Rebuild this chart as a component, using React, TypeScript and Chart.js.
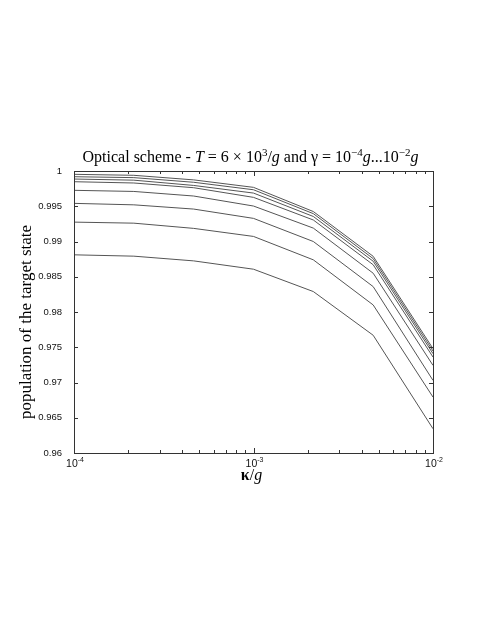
import React, { useEffect, useRef } from "react";
import { Chart, registerables } from "chart.js";

Chart.register(...registerables);

const kappa = [1e-4, 2.154e-4, 4.642e-4, 1e-3, 2.154e-3, 4.642e-3, 1e-2];

const series1 = [0.99953, 0.99939, 0.99874, 0.99768, 0.99425, 0.9879, 0.9748];
const series2 = [0.99919, 0.99906, 0.9984, 0.99734, 0.99395, 0.98757, 0.97446];
const series3 = [0.99886, 0.9987, 0.99795, 0.99687, 0.99355, 0.9872, 0.97409];
const series4 = [0.99848, 0.9983, 0.99763, 0.99626, 0.99305, 0.9867, 0.97361];
const series5 = [0.99726, 0.9971, 0.99645, 0.99503, 0.9919, 0.9855, 0.97243];
const series6 = [0.99541, 0.9952, 0.9946, 0.99328, 0.99, 0.9836, 0.9703];
const series7 = [0.99275, 0.9926, 0.99186, 0.99072, 0.9874, 0.981, 0.96793];
const series8 = [0.98811, 0.98792, 0.98725, 0.98607, 0.9829, 0.9767, 0.96344];

const allSeries = [series1, series2, series3, series4, series5, series6, series7, series8];

const yTicks = [1, 0.995, 0.99, 0.985, 0.98, 0.975, 0.97, 0.965, 0.96];
const yTickLabels = ["1", "0.995", "0.99", "0.985", "0.98", "0.975", "0.97", "0.965", "0.96"];
const xTickExponents = [-4, -3, -2];
const xMinorMultipliers = [2, 3, 4, 5, 6, 7, 8, 9];

const SERIF = "'Liberation Serif', 'DejaVu Serif', serif";
const SANS = "'Liberation Sans', Arial, sans-serif";

type Part = { t: string; font: string; dy?: number };

function drawParts(ctx: CanvasRenderingContext2D, parts: Part[], cx: number, y: number) {
  let total = 0;
  const widths = parts.map((p) => {
    ctx.font = p.font;
    const w = ctx.measureText(p.t).width;
    total += w;
    return w;
  });
  let x = cx - total / 2;
  ctx.textAlign = "left";
  ctx.textBaseline = "alphabetic";
  parts.forEach((p, i) => {
    ctx.font = p.font;
    ctx.fillText(p.t, x, y + (p.dy || 0));
    x += widths[i];
  });
}

const framePlugin = {
  id: "framePlugin",
  afterDraw(chart: any) {
    const ctx: CanvasRenderingContext2D = chart.ctx;
    const { left, right, top, bottom } = chart.chartArea;
    const xs = chart.scales.x;
    const ys = chart.scales.y;
    ctx.save();
    ctx.strokeStyle = "#333";
    ctx.lineWidth = 1;
    ctx.strokeRect(left + 0.5, top + 0.5, right - left, bottom - top);

    ctx.beginPath();
    yTicks.forEach((v) => {
      const py = Math.round(ys.getPixelForValue(v)) + 0.5;
      ctx.moveTo(left, py);
      ctx.lineTo(left + 4, py);
      ctx.moveTo(right, py);
      ctx.lineTo(right - 4, py);
    });
    xTickExponents.forEach((e) => {
      const px = Math.round(xs.getPixelForValue(Math.pow(10, e))) + 0.5;
      ctx.moveTo(px, bottom);
      ctx.lineTo(px, bottom - 5);
      ctx.moveTo(px, top);
      ctx.lineTo(px, top + 5);
    });
    xTickExponents.slice(0, -1).forEach((e) => {
      xMinorMultipliers.forEach((m) => {
        const px = Math.round(xs.getPixelForValue(m * Math.pow(10, e))) + 0.5;
        ctx.moveTo(px, bottom);
        ctx.lineTo(px, bottom - 3);
        ctx.moveTo(px, top);
        ctx.lineTo(px, top + 3);
      });
    });
    ctx.stroke();

    ctx.fillStyle = "#111";
    ctx.font = `9.5px ${SANS}`;
    ctx.textAlign = "right";
    ctx.textBaseline = "middle";
    yTicks.forEach((v, i) => {
      ctx.fillText(yTickLabels[i], left - 12, ys.getPixelForValue(v));
    });
    xTickExponents.forEach((e) => {
      const px = xs.getPixelForValue(Math.pow(10, e));
      drawParts(
        ctx,
        [
          { t: "10", font: `10.5px ${SANS}` },
          { t: "-" + String(-e), font: `7px ${SANS}`, dy: -5 },
        ],
        px + 1,
        bottom + 14
      );
    });

    ctx.fillStyle = "#000";
    const tf = `16px ${SERIF}`;
    const ti = `italic 16px ${SERIF}`;
    const ts = `11px ${SERIF}`;
    drawParts(
      ctx,
      [
        { t: "Optical scheme - ", font: tf },
        { t: "T", font: ti },
        { t: " = 6 × 10", font: tf },
        { t: "3", font: ts, dy: -6 },
        { t: "/", font: tf },
        { t: "g", font: ti },
        { t: " and γ = 10", font: tf },
        { t: "−4", font: ts, dy: -6 },
        { t: "g", font: ti },
        { t: "...10", font: tf },
        { t: "−2", font: ts, dy: -6 },
        { t: "g", font: ti },
      ],
      (left + right) / 2 - 3,
      top - 9
    );

    drawParts(
      ctx,
      [
        { t: "κ", font: `bold 16px ${SERIF}` },
        { t: "/", font: `16px ${SERIF}` },
        { t: "g", font: `italic 16px ${SERIF}` },
      ],
      (left + right) / 2 - 2,
      bottom + 27
    );

    ctx.save();
    ctx.translate(31, 322);
    ctx.rotate(-Math.PI / 2);
    ctx.font = `17px ${SERIF}`;
    ctx.textAlign = "center";
    ctx.textBaseline = "alphabetic";
    ctx.fillText("population of the target state", 0, 0);
    ctx.restore();

    ctx.restore();
  },
};

export default function App() {
  const ref = useRef<HTMLCanvasElement | null>(null);
  useEffect(() => {
    if (!ref.current) return;
    const chart = new Chart(ref.current, {
      type: "line",
      data: {
        datasets: allSeries.map((s, i) => ({
          label: "series " + (i + 1),
          data: s.map((v, j) => ({ x: kappa[j], y: v })),
          borderColor: "#555",
          borderWidth: 1,
          pointRadius: 0,
          fill: false,
          tension: 0,
        })),
      },
      options: {
        animation: false,
        responsive: false,
        maintainAspectRatio: false,
        layout: { padding: { left: 74, right: 58, top: 171, bottom: 182 } },
        plugins: { legend: { display: false }, tooltip: { enabled: false }, title: { display: false } },
        scales: {
          x: {
            type: "logarithmic",
            min: 1e-4,
            max: 1e-2,
            grid: { display: false },
            border: { display: false },
            ticks: { display: false },
            afterFit: (s: any) => {
              s.height = 0;
            },
          },
          y: {
            type: "linear",
            min: 0.96,
            max: 1,
            grid: { display: false },
            border: { display: false },
            ticks: { display: false },
            afterFit: (s: any) => {
              s.width = 0;
            },
          },
        },
      },
      plugins: [framePlugin],
    });
    return () => chart.destroy();
  }, []);
  return (
    <div style={{ position: "absolute", left: 0, top: 0, width: 491, height: 635, background: "#fff" }}>
      <canvas ref={ref} width={491} height={635} style={{ display: "block" }} />
    </div>
  );
}
